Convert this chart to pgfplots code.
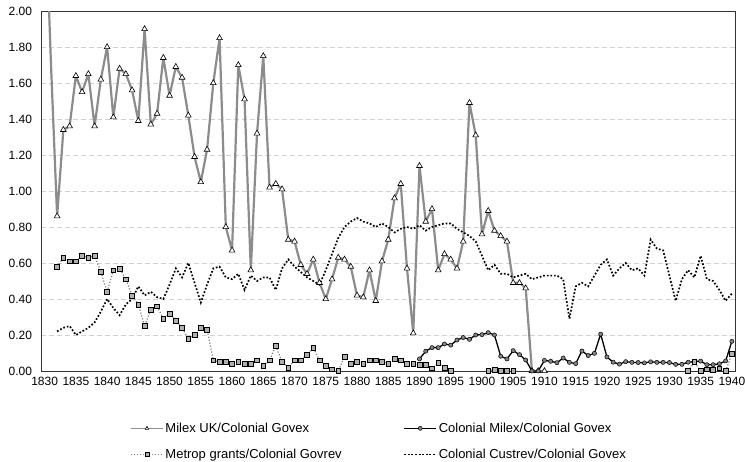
\documentclass[border=0pt]{standalone}
\usepackage{fontspec}
\setmainfont{Liberation Sans}
\usepackage{pgfplots}
\usepackage{pgfplotstable}
\pgfplotsset{compat=1.18}

\pgfplotstableread{
year val
1830 2.70
1831 1.72
1832 0.86
1833 1.34
1834 1.36
1835 1.64
1836 1.55
1837 1.65
1838 1.36
1839 1.62
1840 1.80
1841 1.41
1842 1.68
1843 1.65
1844 1.56
1845 1.39
1846 1.90
1847 1.37
1848 1.43
1849 1.74
1850 1.53
1851 1.69
1852 1.63
1853 1.42
1854 1.19
1855 1.05
1856 1.23
1857 1.60
1858 1.85
1859 0.80
1860 0.67
1861 1.70
1862 1.51
1863 0.56
1864 1.32
1865 1.75
1866 1.02
1867 1.04
1868 1.01
1869 0.73
1870 0.72
1871 0.59
1872 0.54
1873 0.62
1874 0.49
1875 0.40
1876 0.51
1877 0.63
1878 0.62
1879 0.58
1880 0.42
1881 0.41
1882 0.56
1883 0.39
1884 0.61
1885 0.73
1886 0.96
1887 1.04
1888 0.57
1889 0.21
1890 1.14
1891 0.83
1892 0.90
1893 0.56
1894 0.65
1895 0.62
1896 0.57
1897 0.72
1898 1.49
1899 1.31
1900 0.76
1901 0.89
1902 0.78
1903 0.75
1904 0.72
1905 0.49
1906 0.49
1907 0.46
1908 0.00
1909 0.00
1910 0.00
}\milexuk

\pgfplotstableread{
year val
1890 0.067
1891 0.110
1892 0.130
1893 0.130
1894 0.150
1895 0.144
1896 0.172
1897 0.186
1898 0.176
1899 0.200
1900 0.202
1901 0.213
1902 0.200
1903 0.082
1904 0.067
1905 0.113
1906 0.091
1907 0.061
1908 0.000
1909 0.000
1910 0.059
1911 0.054
1912 0.046
1913 0.072
1914 0.048
1915 0.041
1916 0.111
1917 0.086
1918 0.098
1919 0.205
1920 0.078
1921 0.049
1922 0.038
1923 0.052
1924 0.048
1925 0.047
1926 0.045
1927 0.051
1928 0.048
1929 0.048
1930 0.047
1931 0.037
1932 0.037
1933 0.049
1934 0.052
1935 0.055
1936 0.035
1937 0.035
1938 0.040
1939 0.056
1940 0.165
}\colmilex

\pgfplotstableread{
year val
1832 0.58
1833 0.63
1834 0.61
1835 0.61
1836 0.64
1837 0.63
1838 0.64
1839 0.55
1840 0.44
1841 0.56
1842 0.57
1843 0.51
1844 0.42
1845 0.37
1846 0.25
1847 0.34
1848 0.36
1849 0.29
1850 0.32
1851 0.28
1852 0.24
1853 0.18
1854 0.20
1855 0.24
1856 0.23
1857 0.06
1858 0.05
1859 0.05
1860 0.04
1861 0.05
1862 0.04
1863 0.04
1864 0.06
1865 0.03
1866 0.06
1867 0.14
1868 0.05
1869 0.02
1870 0.06
1871 0.06
1872 0.09
1873 0.13
1874 0.06
1875 0.03
1876 0.01
1877 0.00
1878 0.08
1879 0.04
1880 0.05
1881 0.04
1882 0.06
1883 0.06
1884 0.05
1885 0.04
1886 0.07
1887 0.06
1888 0.04
1889 0.04
1890 0.035
1891 0.033
1892 0.015
1893 0.047
1894 0.017
1895 0.000
1896 nan
1901 0.000
1902 0.008
1903 0.000
1904 0.003
1905 0.000
1906 nan
1933 0.000
1934 0.050
1935 0.000
1936 0.010
1937 0.005
1938 0.015
1939 0.000
1940 0.095
}\metrop

\pgfplotstableread{
year val
1832 0.22
1833 0.24
1834 0.25
1835 0.20
1836 0.22
1837 0.24
1838 0.27
1839 0.33
1840 0.40
1841 0.35
1842 0.31
1843 0.37
1844 0.40
1845 0.47
1846 0.42
1847 0.44
1848 0.41
1849 0.40
1850 0.48
1851 0.57
1852 0.52
1853 0.60
1854 0.49
1855 0.38
1856 0.48
1857 0.57
1858 0.58
1859 0.52
1860 0.51
1861 0.54
1862 0.45
1863 0.53
1864 0.50
1865 0.52
1866 0.52
1867 0.45
1868 0.57
1869 0.62
1870 0.58
1871 0.55
1872 0.52
1873 0.50
1874 0.48
1875 0.56
1876 0.65
1877 0.74
1878 0.80
1879 0.83
1880 0.85
1881 0.83
1882 0.82
1883 0.80
1884 0.82
1885 0.80
1886 0.77
1887 0.79
1888 0.80
1889 0.79
1890 0.81
1891 0.78
1892 0.80
1893 0.81
1894 0.82
1895 0.82
1896 0.79
1897 0.77
1898 0.75
1899 0.72
1900 0.64
1901 0.56
1902 0.59
1903 0.54
1904 0.54
1905 0.52
1906 0.53
1907 0.54
1908 0.51
1909 0.52
1910 0.53
1911 0.53
1912 0.53
1913 0.51
1914 0.29
1915 0.47
1916 0.49
1917 0.47
1918 0.53
1919 0.59
1920 0.62
1921 0.53
1922 0.57
1923 0.60
1924 0.56
1925 0.57
1926 0.53
1927 0.73
1928 0.68
1929 0.67
1930 0.53
1931 0.39
1932 0.51
1933 0.56
1934 0.52
1935 0.64
1936 0.51
1937 0.50
1938 0.45
1939 0.39
1940 0.43
}\custrev

\definecolor{milexgray}{RGB}{140,140,140}
\definecolor{gridgray}{RGB}{210,210,210}
\definecolor{markgray}{RGB}{130,130,130}
\definecolor{sqgray}{RGB}{175,175,175}

\begin{document}
\begin{tikzpicture}
\useasboundingbox (-41.5pt,-90pt) rectangle (703.5pt,371pt);
\begin{axis}[
  at={(0pt,0pt)}, anchor=south west,
  scale only axis, width=693.5pt, height=360pt,
  xmin=1829.5, xmax=1940.5, ymin=0, ymax=2,
  xtick={1830,1835,...,1940},
  ytick={0,0.2,...,2.01},
  major tick length=0pt,
  ymajorgrids,
  major grid style={gridgray, line width=0.6pt, dash pattern=on 5pt off 3pt},
  axis line style={black!80, line width=0.9pt},
  /pgf/number format/assume math mode=true,
  ticklabel style={font=\fontsize{12}{14}\selectfont},
  xticklabel style={/pgf/number format/1000 sep={}, yshift=-3pt},
  yticklabel style={/pgf/number format/fixed, /pgf/number format/fixed zerofill, /pgf/number format/precision=2, xshift=-6pt},
  unbounded coords=jump,
  legend columns=2,
  legend cell align=left,
  legend style={draw=none, fill=none, at={(axis description cs:0.128,-0.138)}, anchor=north west,
    font=\fontsize{13}{15}\selectfont, inner sep=0pt,
    /tikz/every even column/.append style={column sep=60pt},
    row sep=11pt},
  legend image code/.code={\draw[mark repeat=2,mark phase=2,#1,line width=1pt,mark size=2pt] plot coordinates {(0pt,0pt) (16pt,0pt) (32pt,0pt)};},
]
\addplot[milexgray, line width=2.2pt, line join=round, mark=triangle*, mark phase=2, mark size=3.3pt,
  mark options={solid, fill=white, draw=black, line width=0.6pt, line join=miter}]
  table[x=year, y=val] {\milexuk};
\addlegendentry{Milex UK/Colonial Govex}
\addplot[black, line width=1.3pt, line join=round, mark=*, mark size=2.1pt,
  mark options={solid, fill=markgray, draw=black, line width=0.5pt}]
  table[x=year, y=val] {\colmilex};
\addlegendentry{Colonial Milex/Colonial Govex}
\addplot[gray, line width=1.2pt, dash pattern=on 1.2pt off 1.8pt, mark=square*, mark size=2.4pt,
  mark options={solid, fill=sqgray, draw=black, line width=0.6pt}]
  table[x=year, y=val] {\metrop};
\addlegendentry{Metrop grants/Colonial Govrev}
\addplot[black, line width=1.7pt, dash pattern=on 1.7pt off 1.9pt, no markers]
  table[x=year, y=val] {\custrev};
\addlegendentry{Colonial Custrev/Colonial Govex}
\end{axis}
\end{tikzpicture}
\end{document}
